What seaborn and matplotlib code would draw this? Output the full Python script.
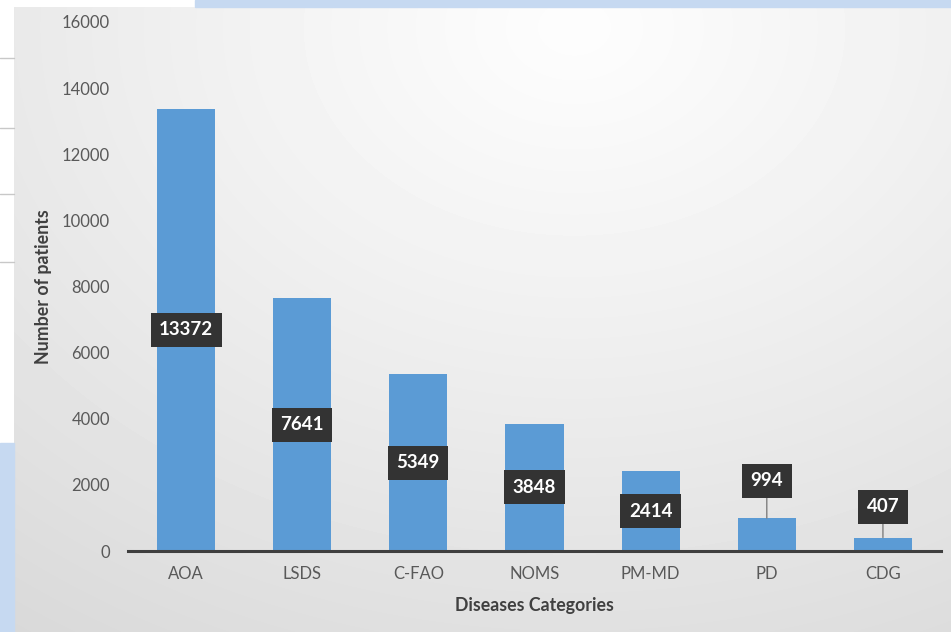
import numpy as np
import matplotlib
matplotlib.use("Agg")
import matplotlib.pyplot as plt
from matplotlib.patches import Rectangle
import seaborn as sns

# datos del grafico
categorias = ["AOA", "LSDS", "C-FAO", "NOMS", "PM-MD", "PD", "CDG"]
pacientes = [13372, 7641, 5349, 3848, 2414, 994, 407]
y_ticks = [0, 2000, 4000, 6000, 8000, 10000, 12000, 14000, 16000]

sns.set_style("white")
plt.rcParams["font.family"] = ["Lato", "DejaVu Sans"]

W, H = 951, 632
fig = plt.figure(figsize=(W / 100, H / 100), dpi=100)
fig.patch.set_facecolor("white")

# fondo con degradado gris (captura de Excel)
bg = fig.add_axes([14 / W, 0, 1 - 14 / W, 1 - 7 / H])
yy, xx = np.mgrid[0:625, 0:937]
d = np.sqrt(((xx - 560) / 1.3) ** 2 + ((yy - 20) / 1.0) ** 2) / 700
img = 253 - 34 * np.clip(d, 0, 1.1) ** 1.1
bg.imshow(img, cmap="gray", vmin=0, vmax=255, aspect="auto", interpolation="bilinear")
bg.axis("off")

# franjas azules y lineas de la izquierda
fig.patches.append(Rectangle((195 / W, 1 - 7 / H), 1, 7 / H, transform=fig.transFigure,
                             color="#c6d9f1", zorder=0))
fig.patches.append(Rectangle((0, 0), 14 / W, 1 - 443 / H, transform=fig.transFigure,
                             color="#c6d9f1", zorder=0))
for yl in [58, 128, 194, 262]:
    fig.lines.append(plt.Line2D([0, 14 / W], [1 - yl / H] * 2, transform=fig.transFigure,
                                color="#c8c8c8", lw=1))

ax = fig.add_axes([128 / W, 1 - 551 / H, 813 / W, 529 / H])
ax.patch.set_alpha(0)

sns.barplot(x=categorias, y=pacientes, color="#5b9bd5", saturation=1, width=0.5,
            linewidth=0, ax=ax)

ax.set_ylim(0, 16000)
ax.set_xlim(-0.5, len(categorias) - 0.5)
ax.set_yticks(y_ticks)
ax.set_yticklabels([str(t) for t in y_ticks])
ax.set_xticks(np.arange(-0.5, len(categorias)), minor=True)
ax.tick_params(axis="x", which="major", length=0, pad=11, labelsize=12, labelcolor="#595959")
ax.tick_params(axis="x", which="minor", length=6, width=2.2, color="#3f3f3f", direction="out")
ax.tick_params(axis="y", length=0, pad=13, labelsize=12, labelcolor="#595959")
for s in ["top", "right", "left"]:
    ax.spines[s].set_visible(False)
ax.spines["bottom"].set_color("#3f3f3f")
ax.spines["bottom"].set_linewidth(2.2)

ax.set_xlabel("Diseases Categories", fontsize=12.8, fontweight="bold", color="#404040", va="center")
ax.set_ylabel("Number of patients", fontsize=12.8, fontweight="bold", color="#404040", va="center")
ax.xaxis.set_label_coords(0.5, (551 - 605) / 529)
ax.yaxis.set_label_coords((44 - 128) / 813, 0.5)

# etiquetas de datos
caja = dict(boxstyle="square,pad=0.45", fc="#333333", ec="none")
offset_fuera = {"PD": 27, "CDG": 22}
for i, (c, v) in enumerate(zip(categorias, pacientes)):
    if c in offset_fuera:
        ax.annotate(str(v), xy=(i, v), xytext=(0, offset_fuera[c]), textcoords="offset points",
                    ha="center", va="center", color="white", fontsize=13.5, fontweight="bold",
                    bbox=caja, arrowprops=dict(arrowstyle="-", color="#7f7f7f", lw=1,
                                               shrinkA=0, shrinkB=0))
    else:
        ax.text(i, v / 2, str(v), ha="center", va="center", color="white",
                fontsize=13.5, fontweight="bold", bbox=caja)

fig.savefig("out.png", dpi=100)
